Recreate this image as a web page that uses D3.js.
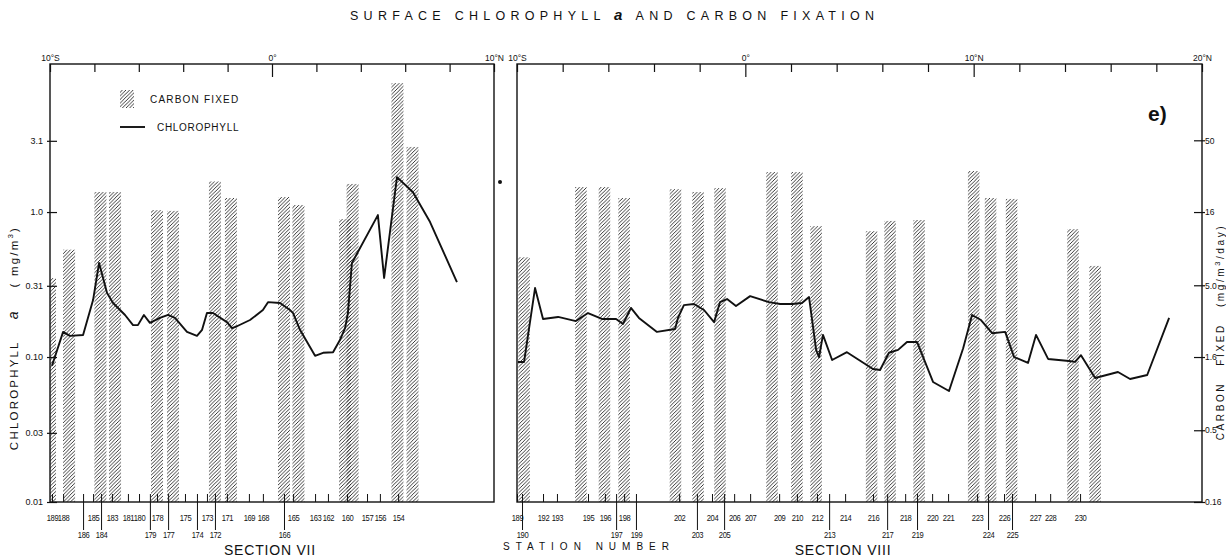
<!DOCTYPE html>
<html>
<head>
<meta charset="utf-8">
<script src="https://cdn.jsdelivr.net/npm/d3@7"></script>
<style>
  body { margin: 0; background: #fff; }
  text { font-family: "Liberation Sans", Arial, sans-serif; fill: #111; }
</style>
</head>
<body>
<div id="chart"></div>
<script>
// chlorophyll (left) and carbon fixed (right) axes; carbon = chl x 16
const chlTicks = [0.01, 0.03, 0.1, 0.31, 1.0, 3.1]
const chlTickLabels = ["0.01", "0.03", "0.10", "0.31", "1.0", "3.1"]
const carbonTicks = [0.16, 0.5, 1.6, 5.0, 16, 50]
const carbonTickLabels = ["0.16", "0.5", "1.6", "5.0", "16", "50"]

// latitude ticks along the top
const sec7LatTicks = [-10, -8, -6, -4, -2, 0, 2, 4, 6, 8, 10]
const sec8LatTicks = [-10, -8, -6, -4, -2, 0, 2, 4, 6, 8, 10, 12, 14, 16, 18, 20]
const latLabels = { "-10": "10°S", "0": "0°", "10": "10°N", "20": "20°N" }

// section VII stations
const sec7Stations = ["189","188","186","185","184","183","181","180","179","178","177","175","174","173","172","171","169","168","166","165","163","162","160","157","156","154"]
const sec7StationLat = [-9.91,-9.41,-8.51,-8.06,-7.70,-7.21,-6.49,-5.99,-5.50,-5.18,-4.68,-3.92,-3.38,-2.93,-2.57,-2.03,-1.04,-0.41,0.54,0.95,1.94,2.52,3.38,4.28,4.86,5.68]
const sec7LowRow = ["186","184","179","177","174","172","166"]

// section VIII stations
const sec8Stations = ["189","190","192","193","195","196","197","198","199","202","203","204","205","206","207","209","210","212","213","214","216","217","218","219","220","221","223","224","225","226","227","228","230"]
const sec8StationLat = [-10.0,-9.78,-8.86,-8.25,-6.89,-6.15,-5.66,-5.31,-4.79,-2.90,-2.12,-1.46,-0.93,-0.49,0.21,1.48,2.26,3.14,3.67,4.37,5.59,6.21,7.00,7.52,8.18,8.88,10.15,10.63,11.68,11.33,12.69,13.35,14.66]
const sec8LowRow = ["190","197","199","203","205","213","217","219","224","225"]

// carbon fixed bars (mg/m3/day)
const sec7CarbonLat = [-10.0,-9.14,-7.73,-7.07,-5.18,-4.46,-2.57,-1.85,0.54,1.19,3.29,3.63,5.65,6.33]
const sec7Carbon = [5.6,8.8,22,22,16.5,16.3,26,20,20.3,17.9,14.3,25,124,45]
const sec8CarbonLat = [-9.69,-7.20,-6.17,-5.31,-3.06,-2.07,-1.11,1.17,2.26,3.10,5.53,6.34,7.61,10.00,10.74,11.66,14.35,15.32]
const sec8Carbon = [7.8,23.8,23.8,20.0,23.0,22.0,23.4,30.2,30.2,12.8,11.8,13.9,14.1,30.7,20.0,19.7,12.2,6.8]

// chlorophyll a line (mg/m3)
const sec7ChlLat = [-9.91,-9.41,-9.10,-8.51,-8.06,-7.79,-7.43,-7.16,-6.62,-6.26,-6.04,-5.77,-5.50,-5.05,-4.68,-4.37,-3.83,-3.38,-3.15,-2.93,-2.66,-2.03,-1.80,-1.58,-0.99,-0.41,-0.18,0.36,0.81,0.95,1.26,1.94,2.30,2.75,3.06,3.29,3.42,3.60,4.77,5.05,5.63,6.35,7.12,8.33]
const sec7Chl = [0.087,0.149,0.140,0.142,0.247,0.445,0.276,0.236,0.195,0.166,0.166,0.195,0.172,0.186,0.195,0.186,0.149,0.140,0.154,0.201,0.201,0.174,0.158,0.163,0.180,0.211,0.239,0.236,0.211,0.201,0.154,0.102,0.107,0.108,0.131,0.158,0.201,0.445,0.953,0.351,1.74,1.37,0.853,0.329]
const sec8ChlLat = [-9.96,-9.69,-9.21,-8.86,-8.20,-7.42,-6.89,-6.28,-5.66,-5.36,-5.01,-4.66,-3.87,-3.08,-2.95,-2.69,-2.25,-1.81,-1.37,-1.11,-0.80,-0.41,0.21,1.04,1.52,2.05,2.48,2.79,3.10,3.23,3.40,3.80,4.45,5.59,5.90,6.29,6.69,7.08,7.52,8.22,8.92,9.54,9.93,10.32,10.81,11.38,11.77,12.38,12.73,13.26,14.18,14.44,14.70,15.32,16.32,16.85,17.60,18.56]
const sec8Chl = [0.0925,0.0925,0.299,0.183,0.189,0.177,0.201,0.183,0.183,0.169,0.218,0.186,0.149,0.156,0.186,0.228,0.232,0.211,0.174,0.239,0.251,0.225,0.263,0.239,0.232,0.232,0.236,0.259,0.112,0.100,0.142,0.0954,0.108,0.0827,0.0813,0.107,0.112,0.127,0.127,0.0673,0.0583,0.115,0.195,0.180,0.146,0.149,0.100,0.091,0.142,0.097,0.0939,0.0925,0.103,0.0717,0.0788,0.0705,0.0752,0.186]

const W = 1226, H = 557
const plotTop = 64, plotBottom = 502

const svg = d3.select('#chart').append('svg')
    .attr('width', W)
    .attr('height', H)

const defs = svg.append('defs')
defs.append('pattern')
    .attr('id', 'hatch')
    .attr('patternUnits', 'userSpaceOnUse')
    .attr('width', 3.6)
    .attr('height', 3.6)
    .append('path')
    .attr('d', 'M-0.9,0.9 L0.9,-0.9 M0,3.6 L3.6,0 M2.7,4.5 L4.5,2.7')
    .attr('stroke', '#222')
    .attr('stroke-width', 0.9)

const y = d3.scaleLog().domain([0.01, 10.5]).range([plotBottom, plotTop])
const yC = d3.scaleLog().domain([0.16, 168]).range([plotBottom, plotTop])

// title
svg.append('text')
    .attr('x', 350).attr('y', 20)
    .attr('font-size', 12.5)
    .attr('textLength', 524)
    .attr('lengthAdjust', 'spacing')
    .html('SURFACE CHLOROPHYLL <tspan font-style="italic" font-size="15" font-weight="bold">a</tspan> AND CARBON FIXATION')

function drawPanel(cfg) {
    const x = d3.scaleLinear().domain(cfg.latDomain).range([cfg.x0, cfg.x1])
    const g = svg.append('g')

    defs.append('clipPath').attr('id', 'clip' + cfg.id)
        .append('rect')
        .attr('x', cfg.x0).attr('y', plotTop)
        .attr('width', cfg.x1 - cfg.x0).attr('height', plotBottom - plotTop)

    // bars
    const bars = cfg.carbonLat.map((d, i) => ({lat: d, v: cfg.carbon[i]}))
    g.append('g').attr('clip-path', 'url(#clip' + cfg.id + ')')
        .selectAll('rect')
        .data(bars)
        .enter()
        .append('rect')
        .attr('x', d => x(d.lat) - cfg.barW / 2)
        .attr('y', d => yC(d.v))
        .attr('width', cfg.barW)
        .attr('height', d => plotBottom - yC(d.v))
        .attr('fill', 'url(#hatch)')

    // chlorophyll line
    const pts = cfg.chlLat.map((d, i) => ({lat: d, v: cfg.chl[i]}))
    g.append('path')
        .datum(pts)
        .attr('fill', 'none')
        .attr('stroke', '#111')
        .attr('stroke-width', 1.9)
        .attr('stroke-linejoin', 'round')
        .attr('d', d3.line().x(d => x(d.lat)).y(d => y(d.v)))

    // frame
    g.append('rect')
        .attr('x', cfg.x0).attr('y', plotTop)
        .attr('width', cfg.x1 - cfg.x0).attr('height', plotBottom - plotTop)
        .attr('fill', 'none')
        .attr('stroke', '#111')
        .attr('stroke-width', 1.4)

    // latitude ticks on top
    const topAxis = g.append('g')
        .attr('transform', 'translate(0,' + plotTop + ')')
        .call(d3.axisTop(x).tickValues(cfg.latTicks).tickSizeInner(-8).tickSizeOuter(0).tickPadding(3)
            .tickFormat(d => latLabels[String(d)] || ''))
    topAxis.select('.domain').remove()
    topAxis.selectAll('line').attr('stroke', '#111').attr('stroke-width', 1.2)
        .attr('y2', d => (d === 0 || d === 10) && d !== cfg.latDomain[1] ? 13 : 8)
    topAxis.selectAll('text').attr('font-size', 8.5)

    // station ticks on bottom
    const nameOf = new Map(cfg.stationLat.map((d, i) => [d, cfg.stations[i]]))
    const botAxis = g.append('g')
        .attr('transform', 'translate(0,' + plotBottom + ')')
        .call(d3.axisBottom(x).tickValues(cfg.stationLat).tickSizeInner(-8).tickSizeOuter(0).tickPadding(12)
            .tickFormat(d => nameOf.get(d)))
    botAxis.select('.domain').remove()
    botAxis.selectAll('line').attr('stroke', '#111').attr('stroke-width', 1)
    botAxis.selectAll('.tick')
        .filter(d => cfg.lowRow.includes(nameOf.get(d)))
        .each(function () {
            d3.select(this).append('line')
                .attr('y1', 0).attr('y2', 28)
                .attr('stroke', '#111').attr('stroke-width', 1)
            d3.select(this).select('text').attr('y', 29)
        })
    // condensed lettering, as in the original
    botAxis.selectAll('text')
        .attr('font-size', 9.5)
        .attr('letter-spacing', -0.5)
        .attr('transform', 'scale(0.8,1)')
    return x
}

drawPanel({
    id: 7, latDomain: [-10, 10], x0: 50, x1: 494, barW: 12,
    latTicks: sec7LatTicks, stations: sec7Stations, stationLat: sec7StationLat, lowRow: sec7LowRow,
    carbonLat: sec7CarbonLat, carbon: sec7Carbon, chlLat: sec7ChlLat, chl: sec7Chl
})
drawPanel({
    id: 8, latDomain: [-10, 20], x0: 517, x1: 1202, barW: 11.5,
    latTicks: sec8LatTicks, stations: sec8Stations, stationLat: sec8StationLat, lowRow: sec8LowRow,
    carbonLat: sec8CarbonLat, carbon: sec8Carbon, chlLat: sec8ChlLat, chl: sec8Chl
})

// left axis: chlorophyll
const leftAxis = svg.append('g')
    .attr('transform', 'translate(50,0)')
    .call(d3.axisLeft(y).tickValues(chlTicks).tickSizeInner(-7).tickSizeOuter(0).tickPadding(7)
        .tickFormat((d, i) => chlTickLabels[i]))
leftAxis.select('.domain').remove()
leftAxis.selectAll('line').attr('stroke', '#111').attr('stroke-width', 1.2).attr('x1', -3)
leftAxis.selectAll('text').attr('font-size', 9)

// right axis: carbon fixed
const rightAxis = svg.append('g')
    .attr('transform', 'translate(1202,0)')
    .call(d3.axisRight(yC).tickValues(carbonTicks).tickSizeInner(-8).tickSizeOuter(0).tickPadding(3)
        .tickFormat((d, i) => carbonTickLabels[i]))
rightAxis.select('.domain').remove()
rightAxis.selectAll('line').attr('stroke', '#111').attr('stroke-width', 1.2).attr('x1', 3)
rightAxis.selectAll('text').attr('font-size', 8.5)

// axis titles
svg.append('text')
    .attr('transform', 'translate(18,338) rotate(-90)')
    .attr('text-anchor', 'middle')
    .attr('font-size', 11.5)
    .attr('letter-spacing', 2.2)
    .html('CHLOROPHYLL &#160;&#160;&#160;<tspan font-style="italic" font-size="14">a</tspan>&#160;&#160;&#160; ( mg/m<tspan dy="-5" font-size="8">3</tspan><tspan dy="5">)</tspan>')

svg.append('text')
    .attr('transform', 'translate(1224,332) rotate(-90)')
    .attr('text-anchor', 'middle')
    .attr('font-size', 10)
    .attr('letter-spacing', 2.6)
    .html('CARBON &#160;&#160;FIXED &#160;&#160;(mg/m<tspan dy="-4" font-size="7.5">3</tspan><tspan dy="4">/day)</tspan>')

// legend
svg.append('rect')
    .attr('x', 120).attr('y', 90).attr('width', 14).attr('height', 18)
    .attr('fill', 'url(#hatch)')
svg.append('text')
    .attr('x', 150).attr('y', 103)
    .attr('font-size', 10).attr('letter-spacing', 1.2)
    .text('CARBON  FIXED')
svg.append('line')
    .attr('x1', 120).attr('x2', 145).attr('y1', 127).attr('y2', 127)
    .attr('stroke', '#111').attr('stroke-width', 1.9)
svg.append('text')
    .attr('x', 157).attr('y', 131)
    .attr('font-size', 10).attr('letter-spacing', 0.7)
    .text('CHLOROPHYLL')

// panel label
svg.append('text')
    .attr('x', 1148).attr('y', 121)
    .attr('font-size', 21).attr('font-weight', 'bold')
    .text('e)')

// stray dot between panels
svg.append('circle').attr('cx', 500).attr('cy', 182).attr('r', 2).attr('fill', '#111')

// bottom captions
svg.append('text')
    .attr('x', 270).attr('y', 555)
    .attr('text-anchor', 'middle')
    .attr('font-size', 14).attr('letter-spacing', 0.8)
    .text('SECTION VII')
svg.append('text')
    .attr('x', 503).attr('y', 550)
    .attr('font-size', 10).attr('letter-spacing', 6)
    .text('STATION   NUMBER')
svg.append('text')
    .attr('x', 843).attr('y', 555)
    .attr('text-anchor', 'middle')
    .attr('font-size', 14).attr('letter-spacing', 0.8)
    .text('SECTION VIII')
</script>
</body>
</html>
